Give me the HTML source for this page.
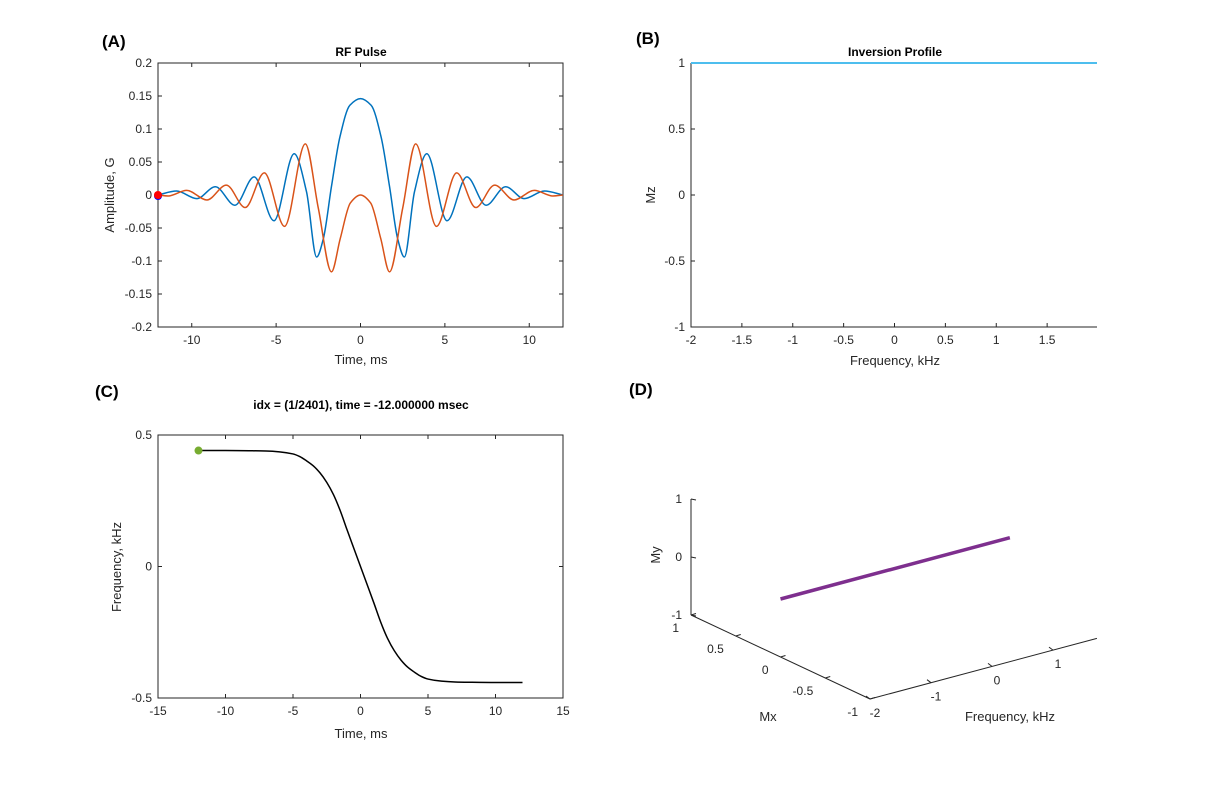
<!DOCTYPE html>
<html><head><meta charset="utf-8">
<style>
html,body{margin:0;padding:0;background:#fff;}
svg{display:block;font-family:"Liberation Sans",Arial,sans-serif;}
.tk{font-size:12px;fill:#262626;}
.lb{font-size:13px;fill:#262626;}
.tt{font-size:12px;font-weight:bold;fill:#000;}
.pl{font-size:17px;font-weight:bold;fill:#000;}
</style></head>
<body>
<svg id="fig" width="1213" height="785" viewBox="0 0 1213 785">
<rect width="1213" height="785" fill="#fff"/>
<text class="pl" x="102" y="47">(A)</text>
<text class="pl" x="636" y="44">(B)</text>
<text class="pl" x="95" y="397">(C)</text>
<text class="pl" x="629" y="395">(D)</text>
<text class="tt" x="361" y="56" text-anchor="middle">RF Pulse</text>
<text class="tt" x="895" y="56" text-anchor="middle">Inversion Profile</text>
<text class="tt" x="361" y="409" text-anchor="middle">idx = (1/2401), time = -12.000000 msec</text>
<g id="gA"></g><g id="gB"></g><g id="gC"></g><g id="gD"></g>
</svg>
<script>
// ---- Panel A data (RF pulse keypoints) ----
const rfTime=[-12,-10.9,-9.7,-8.6,-7.44,-6.3,-5.13,-3.93,-3.2,-2.6,-2.2,-1.72,-1.22,-0.63,0,0.63,1.22,1.72,2.2,2.6,3.2,3.93,5.13,6.3,7.44,8.6,9.7,10.9,12];
const rfReal=[0,0.006,-0.0055,0.0125,-0.0155,0.0275,-0.039,0.0625,0.005,-0.094,-0.066,0.013,0.088,0.136,0.146,0.136,0.088,0.013,-0.066,-0.094,0.005,0.0625,-0.039,0.0275,-0.0155,0.0125,-0.0055,0.006,0];
const rfImagTime=[-12,-11.4,-10.3,-9.1,-7.95,-6.83,-5.7,-4.5,-3.27,-2.5,-1.72,-1.2,-0.6,0,0.6,1.2,1.72,2.5,3.27,4.5,5.7,6.83,7.95,9.1,10.3,11.4,12];
const rfImag=[0,-0.0015,0.007,-0.0075,0.015,-0.019,0.0335,-0.0475,0.0775,-0.02,-0.1165,-0.066,-0.012,0,-0.012,-0.066,-0.1165,-0.02,0.0775,-0.0475,0.0335,-0.019,0.015,-0.0075,0.007,-0.0015,0];
const aXTicks=[-10,-5,0,5,10];
const aYTicks=[-0.2,-0.15,-0.1,-0.05,0,0.05,0.1,0.15,0.2];
// ---- Panel B data ----
const profFreq=[-2,1.99];
const profMz=[1,1];
const bXTicks=[-2,-1.5,-1,-0.5,0,0.5,1,1.5];
const bYTicks=[-1,-0.5,0,0.5,1];
// ---- Panel C data ----
const sweepTime=[-12,-10,-8,-7,-6,-5,-4.5,-4,-3.5,-3,-2.5,-2,-1.5,-1,-0.5,0,0.5,1,1.5,2,2.5,3,3.5,4,4.5,5,6,7,8,10,12];
const sweepFreq=[0.441,0.441,0.44,0.439,0.436,0.428,0.418,0.402,0.383,0.356,0.32,0.273,0.212,0.14,0.07,0,-0.07,-0.14,-0.212,-0.273,-0.32,-0.356,-0.383,-0.402,-0.418,-0.428,-0.436,-0.439,-0.44,-0.441,-0.441];
const cXTicks=[-15,-10,-5,0,5,10,15];
const cYTicks=[-0.5,0,0.5];
// ---- Panel D data ----
const magFreq=[-2,1.76];
const magMx=[0,0];
const magMy=[0,0];
const dFreqTicks=[-2,-1,0,1];
const dMxTicks=[-1,-0.5,0,0.5,1];
const dMyTicks=[-1,0,1];

const NS="http://www.w3.org/2000/svg";
function el(parent,tag,attrs,text){const e=document.createElementNS(NS,tag);for(const k in attrs)e.setAttribute(k,attrs[k]);if(text!==undefined)e.textContent=text;parent.appendChild(e);return e;}
function fmt(v){return String(Math.round(v*1000)/1000);}
// monotone cubic (Fritsch-Carlson) path through screen points
function mono(pts){const n=pts.length,d=[],m=[];
  for(let i=0;i<n-1;i++)d.push((pts[i+1][1]-pts[i][1])/(pts[i+1][0]-pts[i][0]));
  m[0]=d[0];m[n-1]=d[n-2];
  for(let i=1;i<n-1;i++){if(d[i-1]*d[i]<=0)m[i]=0;else{const h0=pts[i][0]-pts[i-1][0],h1=pts[i+1][0]-pts[i][0];const w1=2*h1+h0,w2=h1+2*h0;m[i]=(w1+w2)/(w1/d[i-1]+w2/d[i]);}}
  let s="M"+pts[0][0]+","+pts[0][1];
  for(let i=0;i<n-1;i++){const h=(pts[i+1][0]-pts[i][0])/3;s+=" C"+(pts[i][0]+h)+","+(pts[i][1]+m[i]*h)+" "+(pts[i+1][0]-h)+","+(pts[i+1][1]-m[i+1]*h)+" "+pts[i+1][0]+","+pts[i+1][1];}
  return s;}
function axes(g,L,T,R,B,xs,ys,xt,yt,box){
  if(box){const r=el(g,'rect',{x:L,y:T,width:R-L,height:B-T,fill:'none',stroke:'#262626','stroke-width':1});
  }
  else{const a=el(g,'path',{d:`M${L},${T}V${B}H${R}`,fill:'none',stroke:'#262626','stroke-width':1});
  }
  xt.forEach(v=>{const x=xs(v);el(g,'line',{x1:x,y1:B,x2:x,y2:B-4,stroke:'#262626'});if(box)el(g,'line',{x1:x,y1:T,x2:x,y2:T+4,stroke:'#262626'});
    const t=el(g,'text',{class:'tk',x:x,y:B+17,'text-anchor':'middle'},fmt(v));});
  yt.forEach(v=>{const y=ys(v);el(g,'line',{x1:L,y1:y,x2:L+4,y2:y,stroke:'#262626'});if(box)el(g,'line',{x1:R,y1:y,x2:R-4,y2:y,stroke:'#262626'});
    const t=el(g,'text',{class:'tk',x:L-6,y:y+4,'text-anchor':'end'},fmt(v));});
}
function label(g,x,y,txt,rot,name){const t=el(g,'text',{class:'lb',x:x,y:y,'text-anchor':'middle',transform:rot?`rotate(-90 ${x} ${y})`:''},txt);}

// Panel A
(function(){const g=document.getElementById('gA');const L=158,R=563,T=63,B=327;
const xs=v=>L+(v+12)/24*(R-L),ys=v=>B-(v+0.2)/0.4*(B-T);
axes(g,L,T,R,B,xs,ys,aXTicks,aYTicks,true);
const p1=el(g,'path',{d:mono(rfTime.map((t,i)=>[xs(t),ys(rfReal[i])])),fill:'none',stroke:'#0072BD','stroke-width':1.5});

const p2=el(g,'path',{d:mono(rfImagTime.map((t,i)=>[xs(t),ys(rfImag[i])])),fill:'none',stroke:'#D95319','stroke-width':1.5});

const m0=el(g,'circle',{cx:xs(rfTime[0]),cy:ys(rfReal[0])+1,r:4,fill:'#0000ff'});
const m=el(g,'circle',{cx:xs(rfTime[0]),cy:ys(rfImag[0]),r:4,fill:'#ff0000'});
label(g,361,364,'Time, ms',false,'x-axis-title');label(g,114,195,'Amplitude, G',true,'y-axis-title');})();

// Panel B
(function(){const g=document.getElementById('gB');const L=691,R=1097,T=63,B=327;
const xs=v=>L+(v+2)/3.99*(R-L),ys=v=>B-(v+1)/2*(B-T);
axes(g,L,T,R,B,xs,ys,bXTicks,bYTicks,false);
const p=el(g,'polyline',{points:profFreq.map((f,i)=>xs(f)+','+ys(profMz[i])).join(' '),fill:'none',stroke:'#4DBEEE','stroke-width':2});

label(g,895,365,'Frequency, kHz',false,'x-axis-title');label(g,655,195,'Mz',true,'y-axis-title');})();

// Panel C
(function(){const g=document.getElementById('gC');const L=158,R=563,T=435,B=698;
const xs=v=>L+(v+15)/30*(R-L),ys=v=>B-(v+0.5)/1*(B-T);
axes(g,L,T,R,B,xs,ys,cXTicks,cYTicks,true);
const p=el(g,'path',{d:mono(sweepTime.map((t,i)=>[xs(t),ys(sweepFreq[i])])),fill:'none',stroke:'#000','stroke-width':1.5});

const m=el(g,'circle',{cx:xs(sweepTime[0]),cy:ys(sweepFreq[0]),r:4,fill:'#77AC30'});
label(g,361,738,'Time, ms',false,'x-axis-title');label(g,121,567,'Frequency, kHz',true,'y-axis-title');})();

// Panel D (3D projection)
(function(){const g=document.getElementById('gD');
const P=(f,mx,my)=>[870+61*(f+2)-89.5*(mx+1),699-16.3*(f+2)-42*(mx+1)-58*(my+1)];
const ax=(a,b,name)=>{const l=el(g,'line',{x1:a[0],y1:a[1],x2:b[0],y2:b[1],stroke:'#262626'});};
ax(P(-2,1,-1),P(-2,1,1),'my-axis');ax(P(-2,1,-1),P(-2,-1,-1),'mx-axis');ax(P(-2,-1,-1),P(1.72,-1,-1),'frequency-axis');
dMyTicks.forEach(v=>{const p=P(-2,1,v);el(g,'line',{x1:p[0],y1:p[1],x2:p[0]+5,y2:p[1]+1,stroke:'#262626'});const t=el(g,'text',{class:'tk',x:p[0]-9,y:p[1]+4,'text-anchor':'end'},fmt(v));});
dMxTicks.forEach(v=>{const p=P(-2,v,-1);el(g,'line',{x1:p[0],y1:p[1],x2:p[0]+5,y2:p[1]-1.5,stroke:'#262626'});const t=el(g,'text',{class:'tk',x:p[0]-12,y:p[1]+17,'text-anchor':'end'},fmt(v));});
dFreqTicks.forEach(v=>{const p=P(v,-1,-1);el(g,'line',{x1:p[0],y1:p[1],x2:p[0]-4,y2:p[1]-3,stroke:'#262626'});const t=el(g,'text',{class:'tk',x:p[0]+5,y:p[1]+18,'text-anchor':'middle'},fmt(v));});
const p=el(g,'polyline',{points:magFreq.map((f,i)=>P(f,magMx[i],magMy[i]).join(',')).join(' '),fill:'none',stroke:'#7E2F8E','stroke-width':3.5});

label(g,660,555,'My',true,'my-axis-title');label(g,768,721,'Mx',false,'mx-axis-title');label(g,1010,721,'Frequency, kHz',false,'frequency-axis-title');})();
</script>
</body></html>
